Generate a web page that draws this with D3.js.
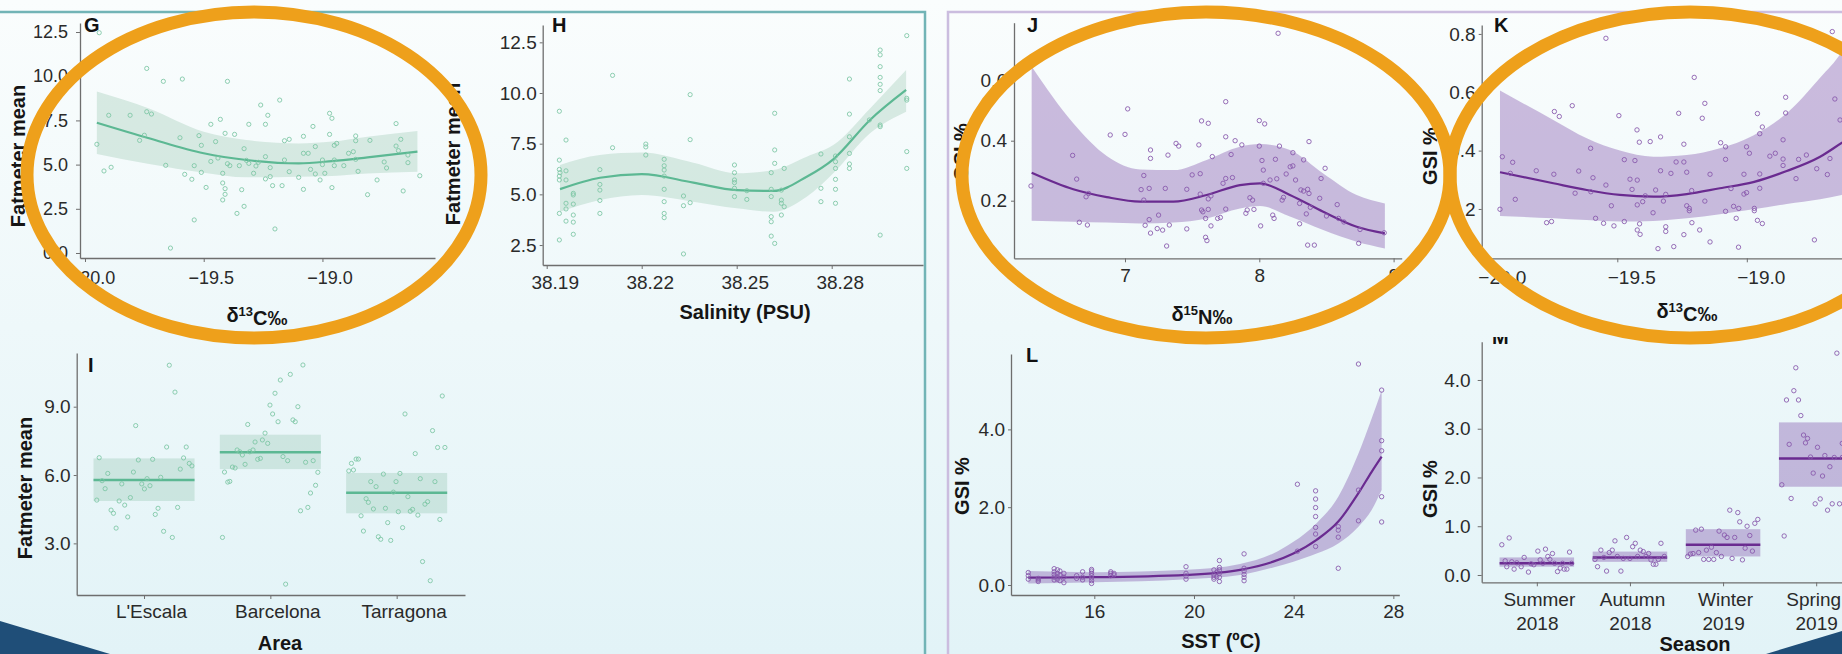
<!DOCTYPE html>
<html>
<head>
<meta charset="utf-8">
<script src="https://cdn.jsdelivr.net/npm/d3@7"></script>
<style>
  html, body { margin: 0; padding: 0; overflow: hidden; }
  body { width: 1842px; height: 654px; }
  svg { display: block; }
</style>
</head>
<body>
<svg id="fig" width="1842" height="654"></svg>
<script>
// ---------------- G: Fatmeter mean vs δ13C ----------------
const gPoints = [[-19.94,12.46],[-19.74,10.44],[-19.67,9.71],[-19.59,9.84],[-19.40,9.71],[-19.18,8.65],[-19.26,8.37],[-19.90,7.79],[-19.81,7.79],[-19.74,7.99],[-19.72,7.86],[-19.95,6.15],[-19.92,4.64],[-19.89,4.85],[-19.77,6.37],[-19.75,6.66],[-19.66,4.96],[-19.64,0.28],[-19.60,6.52],[-19.58,4.45],[-19.55,4.17],[-19.54,4.94],[-19.54,1.87],[-19.52,6.64],[-19.51,6.09],[-19.51,4.56],[-19.49,3.71],[-19.47,7.28],[-19.47,5.18],[-19.45,6.30],[-19.44,5.37],[-19.43,7.56],[-19.42,4.51],[-19.42,3.96],[-19.41,6.77],[-19.41,3.64],[-19.41,3.32],[-19.42,3.00],[-19.40,5.05],[-19.39,4.94],[-19.37,6.71],[-19.36,2.24],[-19.35,4.94],[-19.34,3.58],[-19.33,2.64],[-19.33,5.90],[-19.32,5.24],[-19.31,7.28],[-19.31,5.07],[-19.29,4.51],[-19.28,4.92],[-19.27,5.13],[-19.24,7.28],[-19.24,5.45],[-19.23,7.79],[-19.24,4.19],[-19.22,4.83],[-19.22,4.32],[-19.21,3.81],[-19.20,1.36],[-19.17,3.81],[-19.16,5.26],[-19.16,6.35],[-19.14,6.43],[-19.14,4.60],[-19.10,4.28],[-19.08,6.60],[-19.08,5.64],[-19.08,3.60],[-19.06,5.64],[-19.05,4.73],[-19.04,7.16],[-19.03,6.02],[-19.03,4.47],[-19.01,4.13],[-19.00,5.26],[-19.00,5.00],[-18.99,4.51],[-18.97,7.90],[-18.96,7.62],[-18.97,6.71],[-18.96,3.70],[-18.95,6.09],[-18.95,5.26],[-18.95,4.94],[-18.94,6.20],[-18.91,4.94],[-18.89,5.64],[-18.87,5.73],[-18.86,6.62],[-18.86,6.35],[-18.86,5.30],[-18.85,4.62],[-18.81,3.30],[-18.80,6.37],[-18.77,4.13],[-18.74,5.15],[-18.73,4.81],[-18.69,7.32],[-18.69,6.05],[-18.67,6.43],[-18.68,5.79],[-18.66,3.51],[-18.64,5.11],[-18.64,5.54],[-18.59,4.37]];
const gFitX = [-19.95,-19.73,-19.5,-19.32,-19.10,-18.96,-18.81,-18.60];
const gFit  = [7.37,6.49,5.64,5.26,5.07,5.20,5.41,5.73];
const gLo   = [5.60,5.03,4.54,4.28,4.32,4.36,4.50,4.60];
const gHi   = [9.13,8.18,6.86,6.39,6.20,6.30,6.58,6.90];
const gTicksX = [-20,-19.5,-19];
const gTicksY = [0,2.5,5,7.5,10,12.5];

// ---------------- H: Fatmeter mean vs salinity ----------------
const hPoints = [[38.194,9.10],[38.1961,7.68],[38.194,6.69],[38.194,6.23],[38.1942,6.07],[38.194,5.90],[38.194,5.71],[38.1961,6.16],[38.1961,5.71],[38.194,4.06],[38.194,2.75],[38.1961,4.56],[38.1961,4.28],[38.1961,3.68],[38.1984,5.05],[38.1984,4.97],[38.1984,4.52],[38.1984,3.98],[38.1984,3.63],[38.1984,3.03],[38.2068,6.22],[38.2068,5.49],[38.2068,5.21],[38.2068,4.70],[38.2068,4.06],[38.2108,10.87],[38.2108,7.30],[38.2213,7.48],[38.2213,7.34],[38.2213,6.94],[38.2271,6.73],[38.2271,6.41],[38.2271,6.20],[38.2271,5.90],[38.2271,5.25],[38.2271,4.64],[38.2271,4.06],[38.2271,3.85],[38.2332,4.92],[38.2332,4.44],[38.2332,2.06],[38.2353,9.92],[38.2353,7.70],[38.2353,4.59],[38.2493,6.45],[38.2493,6.07],[38.2493,5.71],[38.2493,5.58],[38.2493,5.30],[38.2493,4.89],[38.2532,5.18],[38.2532,4.75],[38.2609,6.07],[38.2609,5.25],[38.2609,4.89],[38.2609,3.90],[38.2609,3.65],[38.2609,2.94],[38.262,9.00],[38.262,7.19],[38.262,6.53],[38.262,2.58],[38.2641,5.21],[38.2641,4.72],[38.2641,4.56],[38.2641,3.98],[38.265,6.28],[38.265,4.39],[38.2766,6.99],[38.2766,5.30],[38.2766,4.64],[38.2812,6.89],[38.2812,6.61],[38.2812,6.28],[38.2812,5.74],[38.2812,5.25],[38.2812,4.56],[38.2856,10.69],[38.2856,8.96],[38.2856,7.84],[38.2856,7.02],[38.2856,6.50],[38.2856,6.28],[38.2919,8.67],[38.2953,12.12],[38.2953,11.88],[38.2953,11.30],[38.2953,10.77],[38.2953,10.43],[38.2953,10.12],[38.2953,8.42],[38.2953,8.34],[38.2953,2.99],[38.3037,12.83],[38.3037,9.74],[38.3037,9.65],[38.3037,7.11],[38.3037,6.28]];
const hFitX = [38.1942,38.2068,38.22,38.2363,38.25,38.2616,38.2721,38.2805,38.2921,38.3035];
const hFit  = [5.26,5.82,6.00,5.58,5.21,5.17,5.87,6.73,8.67,10.15];
const hLo   = [4.14,4.72,4.97,4.64,4.31,4.14,4.88,6.04,8.01,9.08];
const hHi   = [6.45,6.94,7.06,6.56,6.04,6.20,6.86,7.43,9.24,11.13];
const hTicksX = [38.19,38.22,38.25,38.28];
const hTicksY = [2.5,5,7.5,10,12.5];

// ---------------- I: Fatmeter mean by area ----------------
const areas = ["L'Escala","Barcelona","Tarragona"];
const areaMean = [5.78,7.00,5.22];
const areaLo   = [4.86,6.26,4.32];
const areaHi   = [6.73,7.77,6.09];
const iPoints = [[0.626,4.90],[0.645,6.76],[0.668,5.75],[0.692,5.40],[0.713,6.07],[0.739,4.46],[0.758,4.32],[0.779,3.67],[0.803,4.86],[0.824,5.61],[0.847,4.68],[0.871,4.16],[0.892,5.01],[0.916,6.13],[0.934,8.17],[0.955,6.66],[0.982,5.61],[1.003,5.39],[1.024,5.84],[1.047,5.53],[1.068,6.69],[1.089,4.27],[1.111,4.54],[1.132,5.90],[1.155,3.53],[1.179,7.23],[1.200,10.82],[1.224,3.26],[1.245,9.64],[1.266,4.58],[1.287,6.26],[1.313,6.75],[1.334,7.23],[1.358,6.51],[1.379,6.40],
  [1.621,3.26],[1.637,6.13],[1.663,5.69],[1.679,5.72],[1.700,6.35],[1.721,6.31],[1.737,7.10],[1.758,7.02],[1.779,6.88],[1.800,6.47],[1.821,8.22],[1.837,7.02],[1.863,7.10],[1.879,7.45],[1.900,6.69],[1.921,6.73],[1.937,7.54],[1.958,7.84],[1.979,7.39],[1.997,9.07],[2.018,8.68],[2.037,9.59],[2.061,8.34],[2.079,10.17],[2.100,6.81],[2.121,1.21],[2.137,6.63],[2.158,10.42],[2.179,8.42],[2.197,8.34],[2.218,9.00],[2.239,4.43],[2.258,10.83],[2.279,6.56],[2.297,4.58],[2.318,5.21],[2.339,6.63],[2.358,5.55],[2.376,6.12],
  [2.621,6.18],[2.642,6.51],[2.658,6.22],[2.679,6.70],[2.697,6.70],[2.718,4.21],[2.737,3.54],[2.758,4.96],[2.776,4.80],[2.795,5.71],[2.816,4.51],[2.837,5.49],[2.855,3.29],[2.874,3.18],[2.895,6.04],[2.911,4.54],[2.929,3.91],[2.953,3.13],[2.974,5.25],[2.995,5.71],[3.013,4.39],[3.026,6.07],[3.047,3.69],[3.066,8.68],[3.089,5.05],[3.108,4.41],[3.126,4.49],[3.147,6.94],[3.168,4.24],[3.187,5.84],[3.205,2.20],[3.224,4.72],[3.245,4.83],[3.266,1.36],[3.284,7.95],[3.303,5.71],[3.324,7.21],[3.342,4.05],[3.361,9.47],[3.382,7.21]];
const iTicksY = [3,6,9];

// ---------------- J: GSI vs δ15N ----------------
const jPoints = [[6.30,0.249],[6.61,0.351],[6.64,0.272],[6.66,0.128],[6.71,0.213],[6.72,0.119],[6.73,0.224],[6.89,0.419],[7.00,0.421],[7.02,0.506],[7.12,0.237],[7.14,0.284],[7.14,0.202],[7.15,0.118],[7.18,0.241],[7.18,0.137],[7.19,0.369],[7.19,0.341],[7.19,0.092],[7.24,0.107],[7.25,0.152],[7.28,0.102],[7.30,0.241],[7.31,0.049],[7.32,0.352],[7.33,0.119],[7.38,0.391],[7.40,0.382],[7.46,0.238],[7.46,0.106],[7.50,0.286],[7.55,0.386],[7.56,0.290],[7.56,0.222],[7.57,0.466],[7.57,0.169],[7.58,0.163],[7.60,0.141],[7.60,0.078],[7.61,0.067],[7.62,0.458],[7.62,0.206],[7.62,0.171],[7.64,0.216],[7.64,0.116],[7.65,0.347],[7.69,0.141],[7.71,0.144],[7.73,0.258],[7.75,0.530],[7.75,0.413],[7.75,0.274],[7.75,0.172],[7.79,0.354],[7.80,0.277],[7.82,0.400],[7.87,0.386],[7.90,0.158],[7.91,0.169],[7.93,0.210],[7.95,0.202],[7.96,0.171],[8.00,0.382],[8.00,0.467],[8.01,0.116],[8.02,0.334],[8.03,0.302],[8.03,0.258],[8.04,0.456],[8.08,0.269],[8.10,0.152],[8.11,0.141],[8.12,0.338],[8.13,0.273],[8.14,0.758],[8.15,0.382],[8.17,0.202],[8.18,0.211],[8.20,0.289],[8.23,0.313],[8.25,0.316],[8.25,0.360],[8.27,0.269],[8.30,0.191],[8.30,0.123],[8.31,0.236],[8.33,0.336],[8.33,0.232],[8.35,0.156],[8.36,0.238],[8.36,0.052],[8.37,0.397],[8.37,0.224],[8.38,0.178],[8.41,0.052],[8.45,0.208],[8.46,0.274],[8.49,0.308],[8.50,0.149],[8.58,0.187],[8.59,0.141],[8.63,0.129],[8.74,0.058],[8.75,0.104],[8.93,0.093]];
const jFitX = [6.305,6.615,6.864,7.112,7.36,7.608,7.856,8.005,8.228,8.476,8.725,8.935];
const jFit  = [0.293,0.238,0.212,0.197,0.197,0.219,0.252,0.258,0.219,0.163,0.113,0.091];
const jLo   = [0.133,0.130,0.127,0.124,0.127,0.141,0.174,0.182,0.147,0.102,0.063,0.041];
const jHi   = [0.647,0.458,0.349,0.304,0.302,0.336,0.380,0.389,0.369,0.291,0.219,0.191];
const jTicksX = [7,8,9];
const jTicksY = [0.2,0.4,0.6];

// ---------------- K: GSI vs δ13C ----------------
const kPoints = [[-19.953,0.199],[-19.944,0.379],[-19.913,0.322],[-19.904,0.360],[-19.894,0.233],[-19.813,0.331],[-19.773,0.153],[-19.754,0.157],[-19.745,0.319],[-19.743,0.534],[-19.724,0.517],[-19.674,0.554],[-19.663,0.254],[-19.649,0.330],[-19.603,0.408],[-19.602,0.259],[-19.594,0.307],[-19.584,0.168],[-19.553,0.151],[-19.544,0.282],[-19.544,0.785],[-19.523,0.211],[-19.513,0.142],[-19.494,0.520],[-19.473,0.157],[-19.473,0.369],[-19.451,0.302],[-19.443,0.267],[-19.432,0.366],[-19.424,0.471],[-19.423,0.299],[-19.423,0.214],[-19.423,0.128],[-19.415,0.429],[-19.414,0.149],[-19.412,0.113],[-19.402,0.225],[-19.392,0.245],[-19.373,0.431],[-19.362,0.187],[-19.352,0.265],[-19.343,0.064],[-19.333,0.447],[-19.333,0.331],[-19.322,0.227],[-19.313,0.250],[-19.313,0.139],[-19.313,0.123],[-19.293,0.322],[-19.282,0.071],[-19.273,0.361],[-19.263,0.528],[-19.243,0.361],[-19.243,0.422],[-19.243,0.112],[-19.232,0.326],[-19.232,0.211],[-19.222,0.202],[-19.222,0.194],[-19.213,0.263],[-19.212,0.153],[-19.203,0.651],[-19.182,0.128],[-19.172,0.511],[-19.162,0.562],[-19.162,0.227],[-19.142,0.319],[-19.142,0.087],[-19.101,0.427],[-19.082,0.413],[-19.082,0.370],[-19.082,0.192],[-19.061,0.270],[-19.051,0.209],[-19.041,0.168],[-19.032,0.069],[-19.031,0.202],[-19.011,0.319],[-19.011,0.251],[-19.001,0.256],[-19.001,0.413],[-18.990,0.391],[-18.971,0.202],[-18.971,0.194],[-18.959,0.527],[-18.959,0.161],[-18.950,0.458],[-18.950,0.320],[-18.950,0.271],[-18.940,0.481],[-18.940,0.150],[-18.911,0.381],[-18.890,0.391],[-18.860,0.437],[-18.860,0.371],[-18.860,0.349],[-18.850,0.583],[-18.850,0.529],[-18.810,0.304],[-18.800,0.370],[-18.770,0.385],[-18.739,0.094],[-18.730,0.338],[-18.689,0.318],[-18.679,0.373],[-18.670,0.808],[-18.660,0.577],[-18.640,0.505]];
const kFitX = [-19.953,-19.747,-19.618,-19.49,-19.361,-19.232,-19.104,-18.975,-18.846,-18.717,-18.634,-18.60];
const kFit  = [0.326,0.288,0.265,0.248,0.242,0.251,0.271,0.292,0.330,0.379,0.426,0.445];
const kLo   = [0.176,0.168,0.162,0.157,0.159,0.168,0.182,0.199,0.217,0.233,0.248,0.255];
const kHi   = [0.606,0.505,0.442,0.400,0.379,0.385,0.408,0.452,0.528,0.650,0.738,0.790];
const kTicksX = [-20,-19.5,-19];
const kTicksY = [0.2,0.4,0.6,0.8];

// ---------------- L: GSI vs SST ----------------
const lPoints = [[13.35,0.32],[13.35,0.24],[13.35,0.15],[13.75,0.17],[13.75,0.13],[13.75,0.09],[14.39,0.42],[14.39,0.34],[14.39,0.27],[14.39,0.20],[14.39,0.13],[14.52,0.39],[14.52,0.30],[14.52,0.21],[14.52,0.15],[14.62,0.36],[14.62,0.26],[14.62,0.11],[14.78,0.30],[14.78,0.20],[14.78,0.06],[15.29,0.24],[15.29,0.17],[15.53,0.34],[15.53,0.20],[15.53,0.13],[15.89,0.40],[15.89,0.36],[15.89,0.30],[15.89,0.24],[15.89,0.18],[15.89,0.11],[15.89,0.04],[16.66,0.34],[16.66,0.30],[16.66,0.24],[16.79,0.30],[16.79,0.26],[19.68,0.47],[19.68,0.30],[19.68,0.23],[19.68,0.15],[20.80,0.39],[20.80,0.26],[20.80,0.20],[20.80,0.15],[20.91,0.33],[20.91,0.21],[21.02,0.63],[21.02,0.45],[21.02,0.39],[21.02,0.30],[21.02,0.20],[21.02,0.09],[22.01,0.80],[22.01,0.43],[22.01,0.36],[22.01,0.27],[22.01,0.20],[22.01,0.11],[24.15,2.59],[24.15,0.87],[24.88,2.42],[24.88,2.21],[24.88,1.99],[24.88,1.76],[24.88,1.48],[24.88,1.31],[24.88,0.99],[25.79,1.50],[25.79,1.41],[25.79,1.23],[25.79,0.43],[26.60,5.68],[26.60,2.44],[26.60,1.65],[27.53,5.01],[27.53,3.71],[27.53,3.45],[27.53,2.27],[27.53,1.62]];
const lFitX = [13.35,16.03,19.71,21.85,23.18,23.99,24.92,25.79,26.60,27.13,27.53];
const lFit  = [0.19,0.20,0.26,0.39,0.60,0.81,1.16,1.63,2.36,2.91,3.30];
const lLo   = [0.04,0.07,0.15,0.26,0.45,0.60,0.81,1.07,1.50,1.93,2.44];
const lHi   = [0.36,0.33,0.39,0.54,0.81,1.11,1.59,2.27,3.38,4.28,5.00];
const lTicksX = [16,20,24,28];
const lTicksY = [0,2,4];

// ---------------- M: GSI by season ----------------
const seasons = [["Summer","2018"],["Autumn","2018"],["Winter","2019"],["Spring","2019"]];
const seasonMean = [0.24,0.36,0.62,2.39];
const seasonLo   = [0.17,0.27,0.38,1.81];
const seasonHi   = [0.36,0.48,0.94,3.13];
const mPoints = [[0.624,0.62],[0.703,0.76],[0.660,0.29],[0.677,0.17],[0.731,0.27],[0.756,0.12],[0.785,0.25],[0.832,0.17],[0.864,0.36],[0.910,0.06],[0.939,0.23],[0.968,0.21],[1.011,0.49],[1.036,0.31],[1.065,0.24],[1.093,0.53],[1.118,0.38],[1.140,0.32],[1.168,0.44],[1.190,0.24],[1.222,0.07],[1.251,0.14],[1.276,0.24],[1.294,0.12],[1.323,0.12],[1.351,0.47],[1.373,0.24],
  [1.624,0.32],[1.652,0.17],[1.688,0.51],[1.720,0.36],[1.749,0.08],[1.778,0.46],[1.810,0.51],[1.839,0.70],[1.864,0.38],[1.903,0.08],[1.928,0.34],[1.964,0.77],[2.000,0.34],[2.029,0.58],[2.057,0.65],[2.082,0.38],[2.111,0.51],[2.143,0.48],[2.172,0.38],[2.201,0.44],[2.226,0.31],[2.251,0.22],[2.279,0.22],[2.305,0.32],[2.333,0.65],[2.369,0.38],
  [2.620,0.38],[2.649,0.43],[2.677,0.44],[2.706,0.92],[2.738,0.46],[2.767,0.94],[2.792,0.32],[2.821,0.51],[2.846,0.32],[2.875,0.57],[2.900,0.32],[2.928,0.46],[2.957,0.90],[2.982,0.38],[3.014,0.82],[3.043,0.77],[3.072,1.33],[3.097,0.34],[3.125,0.77],[3.158,1.28],[3.179,1.09],[3.208,0.31],[3.237,0.55],[3.258,1.00],[3.287,0.81],[3.315,0.49],[3.341,1.06],[3.373,1.14],
  [3.631,1.85],[3.656,0.80],[3.681,3.59],[3.710,2.68],[3.731,1.57],[3.760,3.78],[3.781,4.25],[3.810,3.59],[3.835,3.27],[3.864,2.87],[3.885,2.71],[3.907,2.80],[3.939,2.42],[3.968,2.09],[3.989,1.46],[4.014,2.62],[4.043,1.56],[4.068,2.03],[4.093,2.45],[4.122,1.33],[4.147,2.22],[4.172,1.46],[4.194,2.41],[4.222,4.55],[4.251,1.46],[4.280,2.70],[4.280,2.41]];
const mTicksY = [0,1,2,3,4];

// ---------------- drawing ----------------
const W = 1842, H = 654;
const FONT = "'Liberation Sans', Arial, Helvetica, sans-serif";
const GREEN = { pt: "#7cc6a4", line: "#5cb893", band: "#5aa77f", bandOp: 0.2 };
const PURPLE = { pt: "#8656ab", line: "#6a2b90", band: "#7a48a6", bandOp: 0.36 };
const AXIS = "#6e6e6e";

const svg = d3.select("#fig");
const defs = svg.append("defs");

// slide background
const grad = defs.append("linearGradient").attr("id", "bg").attr("x1", 0).attr("y1", 0).attr("x2", 0).attr("y2", 1);
grad.append("stop").attr("offset", "0%").attr("stop-color", "#fafdfd");
grad.append("stop").attr("offset", "100%").attr("stop-color", "#e2f3f7");
svg.append("rect").attr("width", W).attr("height", H).attr("fill", "url(#bg)");

// section frames
svg.append("rect").attr("x", -10).attr("y", 12).attr("width", 935).attr("height", 700)
  .attr("fill", "none").attr("stroke", "#72b4b6").attr("stroke-width", 2.5);
svg.append("rect").attr("x", 948).attr("y", 12).attr("width", 940).attr("height", 700)
  .attr("fill", "none").attr("stroke", "#cbbddf").attr("stroke-width", 2.5);

function styleAxis(sel, size) {
  sel.select(".domain").attr("stroke", AXIS).attr("stroke-width", 1.3);
  sel.selectAll(".tick line").attr("stroke", AXIS).attr("stroke-width", 1);
  sel.selectAll(".tick text").attr("fill", "#2a2a2a").style("font-family", FONT).style("font-size", size + "px");
}

function axisTitleX(text, cx, baseline, sup) {
  const t = svg.append("text").attr("x", cx).attr("y", baseline).attr("text-anchor", "middle")
    .style("font-family", FONT).style("font-size", "20px").style("font-weight", "bold").attr("fill", "#151515");
  if (sup) {
    t.append("tspan").text(sup[0]);
    t.append("tspan").attr("dy", "-0.45em").style("font-size", "13px").text(sup[1]);
    t.append("tspan").attr("dy", "0.45em").text(sup[2]);
  } else {
    t.text(text);
  }
}
function axisTitleY(text, cx, cy) {
  svg.append("text").attr("transform", `translate(${cx},${cy}) rotate(-90)`).attr("text-anchor", "middle")
    .attr("dy", "0.35em")
    .style("font-family", FONT).style("font-size", "20px").style("font-weight", "bold").attr("fill", "#151515")
    .text(text);
}
function panelLetter(letter, x, y, clip) {
  const t = svg.append("text").attr("x", x).attr("y", y)
    .style("font-family", FONT).style("font-size", "20px").style("font-weight", "bold").attr("fill", "#111")
    .text(letter);
  if (clip) t.attr("clip-path", clip);
}

function panel(p) {
  const x = d3.scaleLinear().domain(p.xDomain).range(p.xRange);
  const y = d3.scaleLinear().domain(p.yDomain).range(p.yRange);
  const g = svg.append("g");

  const ax = d3.axisBottom(x).tickValues(p.xTicks).tickFormat(p.xFormat)
    .tickSize(4).tickSizeOuter(0).tickPadding(p.xPad || 7);
  const gx = g.append("g").attr("transform", `translate(0,${p.yRange[0]})`).call(ax);
  styleAxis(gx, p.tickSize || 19);
  gx.selectAll(".tick text").attr("dx", p.labelShift || 0);

  const ay = d3.axisLeft(y).tickValues(p.yTicks).tickFormat(p.yFormat)
    .tickSize(p.yTick || 3).tickSizeOuter(0).tickPadding(p.yPad || 3);
  const gy = g.append("g").attr("transform", `translate(${p.xRange[0]},0)`).call(ay);
  styleAxis(gy, p.tickSize || 19);
  return { x, y, g, gx };
}

function smooth(pp, fx, fit, lo, hi, col) {
  const rows = fx.map((v, i) => ({ x: v, f: fit[i], lo: lo[i], hi: hi[i] }));
  const area = d3.area().x(d => pp.x(d.x)).y0(d => pp.y(d.lo)).y1(d => pp.y(d.hi)).curve(d3.curveMonotoneX);
  const line = d3.line().x(d => pp.x(d.x)).y(d => pp.y(d.f)).curve(d3.curveMonotoneX);
  pp.g.append("path").attr("d", area(rows)).attr("fill", col.band).attr("fill-opacity", col.bandOp);
  pp.g.append("path").attr("d", line(rows)).attr("fill", "none").attr("stroke", col.line).attr("stroke-width", 2.2);
}

function points(pp, pts, col, r) {
  pp.g.append("g").selectAll("circle").data(pts).join("circle")
    .attr("cx", d => pp.x(d[0])).attr("cy", d => pp.y(d[1])).attr("r", r || 2.1)
    .attr("fill", "none").attr("stroke", col.pt).attr("stroke-width", 0.95).attr("stroke-opacity", 0.9);
}

function crossbars(pp, mean, lo, hi, col) {
  const half = 0.4;
  const rows = mean.map((m, i) => ({ i: i + 1, m, lo: lo[i], hi: hi[i] }));
  pp.g.append("g").selectAll("rect").data(rows).join("rect")
    .attr("x", d => pp.x(d.i - half)).attr("width", d => pp.x(d.i + half) - pp.x(d.i - half))
    .attr("y", d => pp.y(d.hi)).attr("height", d => pp.y(d.lo) - pp.y(d.hi))
    .attr("fill", col.band).attr("fill-opacity", col.bandOp);
  pp.g.append("g").selectAll("line").data(rows).join("line")
    .attr("x1", d => pp.x(d.i - half)).attr("x2", d => pp.x(d.i + half))
    .attr("y1", d => pp.y(d.m)).attr("y2", d => pp.y(d.m))
    .attr("stroke", col.line).attr("stroke-width", 2.6);
}

const f1 = d3.format(".1f"), f2 = d3.format(".2f"), fd = d3.format("d");

// G
const pG = panel({ xDomain: [-20.021, -18.526], xRange: [80, 435], yDomain: [-0.283, 13.01], yRange: [258, 23],
  xTicks: gTicksX, xFormat: f1, yTicks: gTicksY, yFormat: f1, tickSize: 18, labelShift: 7, xPad: 9, yTick: 4, yPad: 8 });
smooth(pG, gFitX, gFit, gLo, gHi, GREEN);
points(pG, gPoints, GREEN);
panelLetter("G", 84, 32);
axisTitleX(null, 257, 322, ["δ", "13", "C‰"]);
axisTitleY("Fatmeter mean", 18, 156);

// H
const pH = panel({ xDomain: [38.18874, 38.30883], xRange: [542.7, 923], yDomain: [1.515, 13.355], yRange: [265, 25],
  xTicks: hTicksX, xFormat: f2, yTicks: hTicksY, yFormat: f1, labelShift: 8 });
smooth(pH, hFitX, hFit, hLo, hHi, GREEN);
points(pH, hPoints, GREEN);
panelLetter("H", 552, 32);
axisTitleX("Salinity (PSU)", 745, 319);
axisTitleY("Fatmeter mean", 453, 154);

// I
const pI = panel({ xDomain: [0.467, 3.541], xRange: [76.7, 465], yDomain: [0.733, 11.357], yRange: [595, 353],
  xTicks: [1, 2, 3], xFormat: d => areas[d - 1], yTicks: iTicksY, yFormat: f1, labelShift: 7, xPad: 6 });
crossbars(pI, areaMean, areaLo, areaHi, GREEN);
points(pI, iPoints, GREEN);
panelLetter("I", 88, 372);
axisTitleX("Area", 280, 650);
axisTitleY("Fatmeter mean", 25, 488);

// J
const pJ = panel({ xDomain: [6.1735, 9.0603], xRange: [1014, 1401.7], yDomain: [0.008, 0.7933], yRange: [258.3, 22.7],
  xTicks: jTicksX, xFormat: fd, yTicks: jTicksY, yFormat: f1, xPad: 6, yPad: 4 });
smooth(pJ, jFitX, jFit, jLo, jHi, PURPLE);
points(pJ, jPoints, PURPLE, 2.2);
panelLetter("J", 1027, 32);
axisTitleX(null, 1202, 321, ["δ", "15", "N‰"]);
axisTitleY("GSI %", 961, 152);

// K
const pK = panel({ xDomain: [-20.0236, -18.4085], xRange: [1481.7, 1900], yDomain: [0.0309, 0.8306], yRange: [258.3, 25],
  xTicks: kTicksX, xFormat: f1, yTicks: kTicksY, yFormat: f1, labelShift: 14, xPad: 8 });
smooth(pK, kFitX, kFit, kLo, kHi, PURPLE);
points(pK, kPoints, PURPLE, 2.2);
panelLetter("K", 1494, 32);
axisTitleX(null, 1687, 318, ["δ", "13", "C‰"]);
axisTitleY("GSI %", 1430, 156);

// L
const pL = panel({ xDomain: [12.657, 28.239], xRange: [1011, 1399.3], yDomain: [-0.257, 5.938], yRange: [595, 354],
  xTicks: lTicksX, xFormat: fd, yTicks: lTicksY, yFormat: f1, xPad: 6 });
smooth(pL, lFitX, lFit, lLo, lHi, PURPLE);
points(pL, lPoints, PURPLE, 2.2);
panelLetter("L", 1026, 362);
axisTitleX("SST (ºC)", 1221, 648);
axisTitleY("GSI %", 962, 486);

// M
const pM = panel({ xDomain: [0.408, 4.9], xRange: [1481.7, 1900], yDomain: [-0.15, 4.785], yRange: [582.3, 341.7],
  xTicks: [1, 2, 3, 4], xFormat: "", yTicks: mTicksY, yFormat: f1, yTick: 4, yPad: 7 });
crossbars(pM, seasonMean, seasonLo, seasonHi, PURPLE);
points(pM, mPoints, PURPLE, 2.2);
pM.gx.selectAll(".tick").each(function (d) {
  const t = d3.select(this).append("text").attr("text-anchor", "middle").attr("fill", "#2a2a2a")
    .style("font-family", FONT).style("font-size", "19px").attr("dx", d === 4 ? -3 : 2);
  t.append("tspan").attr("x", 0).attr("y", 24).text(seasons[d - 1][0]);
  t.append("tspan").attr("x", 0).attr("y", 48).text(seasons[d - 1][1]);
});
defs.append("clipPath").attr("id", "mclip").append("rect").attr("x", 1480).attr("y", 337).attr("width", 60).attr("height", 20);
panelLetter("M", 1492, 344, "url(#mclip)");
axisTitleX("Season", 1695, 651);
axisTitleY("GSI %", 1430, 489);

// highlight ellipses
const ORANGE = "#eea01b";
[[254, 175, 227, 163], [1206, 175, 244, 163], [1690, 175, 240, 163]].forEach(e => {
  svg.append("ellipse").attr("cx", e[0]).attr("cy", e[1]).attr("rx", e[2]).attr("ry", e[3])
    .attr("fill", "none").attr("stroke", ORANGE).attr("stroke-width", 13);
});

// slide corner accents
svg.append("polygon").attr("points", "0,621 110,654 0,654").attr("fill", "#1f4e78");
svg.append("polygon").attr("points", "1766,654 1842,631 1842,654").attr("fill", "#1f4e78");
</script>
</body>
</html>
